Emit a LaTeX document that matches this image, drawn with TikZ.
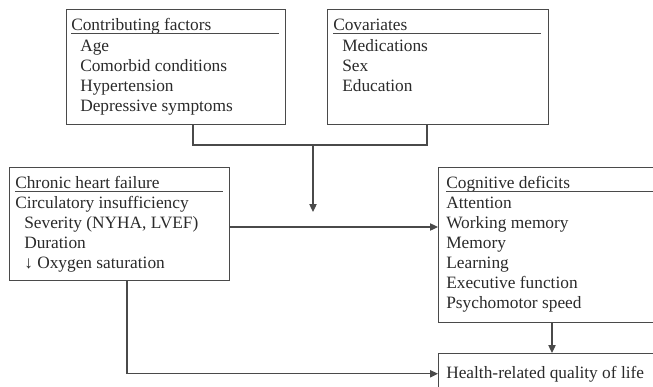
\documentclass[tikz,border=0pt]{standalone}
\usepackage{fontspec}
\setmainfont{Liberation Serif}
\usetikzlibrary{arrows.meta,positioning}
\definecolor{ink}{HTML}{2A2A2A}
\definecolor{wire}{HTML}{4A4A4A}

\begin{document}
\begin{tikzpicture}[x=0.75pt, y=-0.75pt,
      box/.style={draw=wire, line width=0.9pt, anchor=north west, inner sep=0pt},
      txt/.style={anchor=base west, inner sep=0pt, text=ink, font=\fontsize{13}{15}\selectfont},
      rule/.style={draw=wire, line width=0.7pt},
      line/.style={draw=wire, line width=0.9pt},
      arr/.style={line, -{Triangle[length=6pt, width=5.5pt]}}
    ]
    \clip (0,0) rectangle (653,386);

    % boxes
    \node[box, minimum width=164.25pt, minimum height=86.25pt] (cf)  at (66,9)   {};
    \node[box, minimum width=165.75pt, minimum height=86.25pt] (cv)  at (327,9)  {};
    \node[box, minimum width=165pt,    minimum height=84.75pt] (chf) at (9,167)  {};
    \node[box, minimum width=172.5pt,  minimum height=116.25pt] (cog) at (438,167) {};
    \node[box, minimum width=172.5pt,  minimum height=37.5pt]  (hq)  at (438,353) {};

    % contributing factors
    \node[txt] (cf-t)  at (71,30)  {Contributing factors};
    \draw[rule] (71,33) -- (279,33);
    \node[txt] (cf-1)  at (80,51)  {Age};
    \node[txt] (cf-2)  at (80,71)  {Comorbid conditions};
    \node[txt] (cf-3)  at (80,91)  {Hypertension};
    \node[txt] (cf-4)  at (80,111) {Depressive symptoms};

    % covariates
    \node[txt] (cv-t)  at (333,30) {Covariates};
    \draw[rule] (333,33) -- (541,33);
    \node[txt] (cv-1)  at (342,51) {Medications};
    \node[txt] (cv-2)  at (342,71) {Sex};
    \node[txt] (cv-3)  at (342,91) {Education};

    % chronic heart failure
    \node[txt] (chf-t) at (15,188) {Chronic heart failure};
    \draw[rule] (15,191) -- (223,191);
    \node[txt] (chf-1) at (15,208) {Circulatory insufficiency};
    \node[txt] (chf-2) at (24,228) {Severity (NYHA, LVEF)};
    \node[txt] (chf-3) at (24,248) {Duration};
    \node[txt] (chf-4) at (24,268) {↓ Oxygen saturation};

    % cognitive deficits
    \node[txt] (cog-t) at (446,188) {Cognitive deficits};
    \draw[rule] (446,191) -- (660,191);
    \node[txt] (cog-1) at (446,208) {Attention};
    \node[txt] (cog-2) at (446,228) {Working memory};
    \node[txt] (cog-3) at (446,248) {Memory};
    \node[txt] (cog-4) at (446,268) {Learning};
    \node[txt] (cog-5) at (446,288) {Executive function};
    \node[txt] (cog-6) at (446,308) {Psychomotor speed};

    \node[txt] (hq-t)  at (446,378) {Health-related quality of life};

    % connector end points
    \coordinate (cf-out)  at (193,124);
    \coordinate (cv-out)  at (427,124);
    \coordinate (join)    at (313,145);
    \coordinate (hit)     at (313,212);
    \coordinate (chf-out) at (229,227);
    \coordinate (chf-low) at (127,280);
    \coordinate (cog-out) at (552,322);

    \draw[line] (cf-out) |- (join) -| (cv-out);
    \draw[arr] (join) -- (hit);
    \draw[arr] (chf-out) -- (chf-out -| cog.west);
    \draw[arr] (cog-out) -- (cog-out |- hq.north);
    \draw[arr] (chf-low) |- (hq-t.west -| hq.west);
\end{tikzpicture}
\end{document}
